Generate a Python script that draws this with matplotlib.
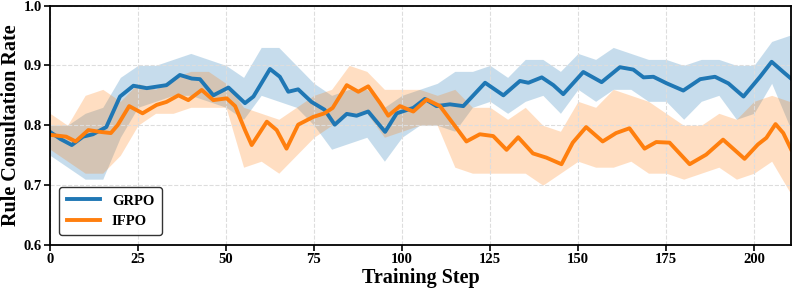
import numpy as np
import matplotlib.pyplot as plt

plt.rcParams['font.family'] = ['Liberation Serif', 'DejaVu Serif']
plt.rcParams['font.weight'] = 'bold'

# smoothed mean curves
grpo_steps = [0, 3, 6.2, 9.4, 12.2, 16, 19.9, 23.7, 27.5, 33.1, 36.9, 40.3, 42.6, 46.4,
              50.7, 55.4, 57.8, 62.5, 65.3, 67.7, 70.5, 74.3, 78, 80.9, 84.3, 87.1,
              90.4, 95.2, 98.5, 103.2, 106.5, 109.8, 113.6, 117.4, 123.6, 128.8,
              133.5, 135.9, 139.7, 143, 145.8, 151.5, 156.7, 161.9, 165.7, 168.6,
              171.4, 175.2, 179.9, 184.7, 188.9, 192.7, 197, 201.7, 205, 208.3, 210.5]
grpo_mean = [0.789, 0.777, 0.767, 0.781, 0.785, 0.797, 0.848, 0.866, 0.862, 0.867,
             0.884, 0.878, 0.877, 0.850, 0.863, 0.837, 0.848, 0.894, 0.881, 0.856,
             0.860, 0.839, 0.826, 0.801, 0.819, 0.816, 0.823, 0.789, 0.820, 0.829,
             0.844, 0.832, 0.835, 0.832, 0.871, 0.850, 0.874, 0.871, 0.880, 0.867,
             0.852, 0.889, 0.872, 0.897, 0.893, 0.880, 0.881, 0.870, 0.858, 0.877,
             0.881, 0.870, 0.848, 0.881, 0.906, 0.889, 0.878]

ifpo_steps = [0, 4.6, 7.3, 10.9, 14.2, 17.3, 19.2, 22.5, 26.3, 30.3, 33.1, 36.5, 39.3,
              43.1, 46.4, 50.2, 52.6, 55.4, 57.3, 61.6, 64.4, 67.2, 70.5, 74.8, 78,
              80.3, 84.3, 87.6, 90.4, 93.8, 96.1, 99.4, 103.2, 107, 110.8, 114.5,
              118.3, 122.1, 125.9, 129.7, 133, 137.2, 141, 145.3, 148.5, 152.3, 157,
              160.8, 164.6, 168.9, 172.2, 176, 181.7, 186.4, 191.2, 197.3, 201.1,
              203.5, 206.1, 208.3, 210.5]
ifpo_mean = [0.784, 0.781, 0.773, 0.792, 0.789, 0.787, 0.800, 0.832, 0.820, 0.834,
             0.839, 0.850, 0.842, 0.859, 0.842, 0.845, 0.832, 0.792, 0.767, 0.806,
             0.792, 0.761, 0.801, 0.814, 0.820, 0.829, 0.867, 0.856, 0.865, 0.837,
             0.816, 0.832, 0.823, 0.843, 0.832, 0.803, 0.773, 0.785, 0.782, 0.759,
             0.780, 0.753, 0.746, 0.735, 0.771, 0.797, 0.773, 0.787, 0.795, 0.761,
             0.772, 0.771, 0.735, 0.751, 0.776, 0.744, 0.768, 0.779, 0.802, 0.787,
             0.760]

# variability bands
band_steps = list(range(0, 211, 5)) + [210.5]
grpo_hi = [0.80, 0.80, 0.82, 0.83, 0.88, 0.90, 0.90, 0.91, 0.92, 0.91, 0.90, 0.88,
           0.93, 0.93, 0.90, 0.87, 0.85, 0.86, 0.86, 0.83, 0.85, 0.86, 0.87, 0.89,
           0.89, 0.90, 0.88, 0.91, 0.91, 0.89, 0.92, 0.91, 0.93, 0.92, 0.91, 0.91,
           0.90, 0.91, 0.91, 0.90, 0.90, 0.94, 0.95, 0.95]
grpo_lo = [0.75, 0.73, 0.71, 0.71, 0.78, 0.83, 0.84, 0.85, 0.85, 0.84, 0.83, 0.81,
           0.85, 0.84, 0.83, 0.80, 0.76, 0.77, 0.78, 0.74, 0.78, 0.80, 0.80, 0.79,
           0.83, 0.84, 0.82, 0.84, 0.85, 0.82, 0.86, 0.84, 0.86, 0.86, 0.84, 0.84,
           0.81, 0.84, 0.85, 0.81, 0.82, 0.87, 0.80, 0.80]
ifpo_hi = [0.82, 0.80, 0.85, 0.86, 0.84, 0.87, 0.86, 0.88, 0.89, 0.89, 0.87, 0.83,
           0.82, 0.81, 0.83, 0.85, 0.86, 0.90, 0.89, 0.86, 0.86, 0.86, 0.85, 0.86,
           0.83, 0.83, 0.81, 0.83, 0.80, 0.79, 0.84, 0.83, 0.86, 0.85, 0.84, 0.82,
           0.80, 0.80, 0.82, 0.81, 0.84, 0.85, 0.84, 0.84]
ifpo_lo = [0.76, 0.74, 0.72, 0.72, 0.75, 0.80, 0.82, 0.82, 0.83, 0.83, 0.83, 0.73,
           0.74, 0.72, 0.75, 0.78, 0.80, 0.82, 0.82, 0.78, 0.79, 0.80, 0.80, 0.73,
           0.72, 0.72, 0.72, 0.72, 0.70, 0.72, 0.74, 0.73, 0.73, 0.74, 0.72, 0.72,
           0.71, 0.72, 0.73, 0.71, 0.72, 0.74, 0.69, 0.69]

fig = plt.figure(figsize=(7.93, 2.90), dpi=100)
ax = fig.add_axes([0.063, 0.155, 0.9345, 0.826])

blue = '#1f77b4'
orange = '#ff7f0e'

ax.fill_between(band_steps, grpo_lo, grpo_hi, color=blue, alpha=0.25, lw=0)
ax.fill_between(band_steps, ifpo_lo, ifpo_hi, color=orange, alpha=0.25, lw=0)
ax.plot(grpo_steps, grpo_mean, color=blue, lw=2.8, label='GRPO')
ax.plot(ifpo_steps, ifpo_mean, color=orange, lw=2.8, label='IFPO')

ax.set_xlim(0, 210.5)
ax.set_ylim(0.6, 1.0)
ax.set_xticks([0, 25, 50, 75, 100, 125, 150, 175, 200])
ax.set_yticks([0.6, 0.7, 0.8, 0.9, 1.0])
ax.grid(True, ls='--', color='#dddddd', lw=0.8)
ax.tick_params(labelsize=10.5, width=1.2, length=4, pad=2)
for lab in ax.get_xticklabels() + ax.get_yticklabels():
    lab.set_fontweight('bold')
for s in ax.spines.values():
    s.set_linewidth(1.3)
    s.set_color('black')

ax.set_xlabel('Training Step', fontsize=14.5, fontweight='bold', labelpad=1)
ax.set_ylabel('Rule Consultation Rate', fontsize=14.5, fontweight='bold', labelpad=2)

leg = ax.legend(loc='lower left', fontsize=10.5, handlelength=2.3, frameon=True,
                borderpad=0.5, handletextpad=0.8, bbox_to_anchor=(0.003, 0.01))
leg.get_frame().set_edgecolor('black')
leg.get_frame().set_linewidth(1.0)
for t in leg.get_texts():
    t.set_fontweight('bold')

plt.savefig('out.png', dpi=100)
